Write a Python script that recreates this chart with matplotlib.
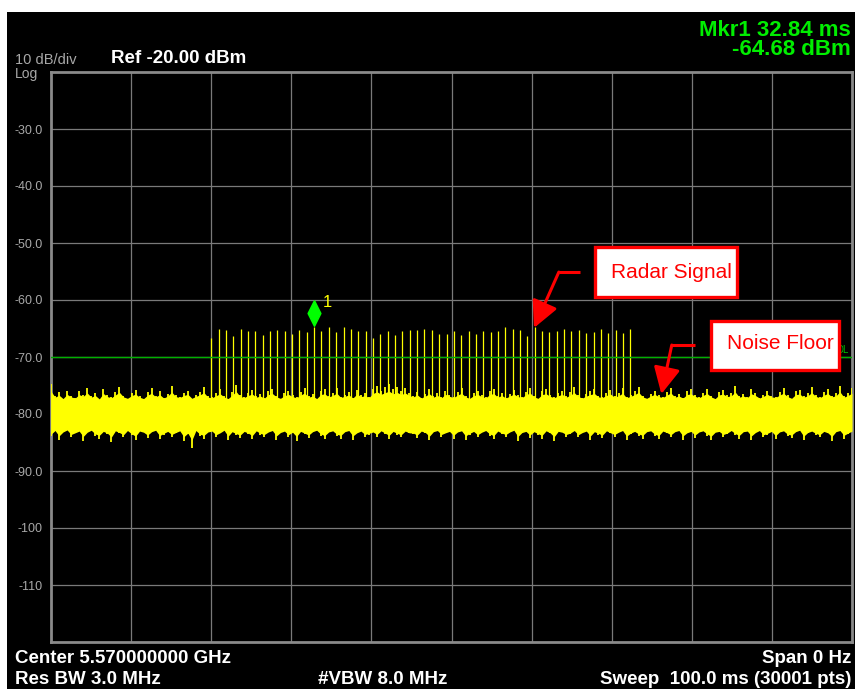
import numpy as np
import matplotlib.pyplot as plt
from matplotlib.patches import Rectangle

plt.rcParams['font.family'] = ['Liberation Sans', 'DejaVu Sans']

# screen settings (zero span, 100 ms sweep)
t_start, t_stop = 0.0, 100.0
ref_level = -20.0
bottom_level = -120.0
ytick_vals = [-30, -40, -50, -60, -70, -80, -90, -100, -110]
ytick_labels = ['-30.0', '-40.0', '-50.0', '-60.0', '-70.0', '-80.0', '-90.0', '-100', '-110']
xgrid_vals = [10, 20, 30, 40, 50, 60, 70, 80, 90]
display_line = -70.0

# radar pulses (ms, dBm)
pulse_t = [20.00, 20.92, 21.84, 22.75, 23.67, 24.59, 25.51, 26.43, 27.34, 28.26,
           29.18, 30.10, 31.02, 31.93, 32.85, 33.77, 34.69, 35.61, 36.52, 37.44,
           38.36, 39.28, 40.20, 41.11, 42.03, 42.95, 43.87, 44.79, 45.70, 46.62,
           47.54, 48.46, 49.38, 50.29, 51.21, 52.13, 53.05, 53.97, 54.88, 55.80,
           56.72, 57.64, 58.56, 59.47, 60.39, 61.31, 62.23, 63.15, 64.06, 64.98,
           65.90, 66.82, 67.74, 68.65, 69.57, 70.49, 71.41, 72.33]
pulse_peak = [-66.6, -65.0, -65.3, -66.4, -65.1, -65.4, -65.4, -66.1, -65.5, -65.3,
              -65.5, -66.0, -65.3, -65.7, -64.7, -65.4, -64.8, -65.7, -64.7, -65.0,
              -65.5, -65.4, -66.7, -66.0, -65.5, -66.1, -65.5, -65.2, -65.3, -65.1,
              -65.3, -66.0, -66.0, -65.5, -66.1, -65.4, -66.0, -65.4, -65.7, -65.5,
              -64.8, -65.1, -65.3, -66.3, -64.8, -65.4, -65.7, -65.4, -65.1, -65.4,
              -65.3, -65.8, -65.7, -65.0, -65.8, -65.3, -65.8, -65.1]

# noise floor, peaks and troughs read every 0.5 ms
noise_hi = [-74.8, -76.9, -76.2, -77.4, -75.9, -76.8, -77.2, -76.0, -76.6, -75.4,
            -76.9, -76.3, -77.5, -75.6, -76.7, -77.1, -76.1, -75.2, -76.8, -77.3,
            -76.4, -75.8, -76.9, -77.4, -76.2, -75.5, -76.8, -76.0, -77.2, -76.5,
            -75.1, -76.7, -77.0, -76.3, -75.9, -77.3, -76.6, -76.1, -75.3, -76.9,
            -77.1, -76.4, -75.7, -76.8, -77.4, -76.2, -74.9, -76.7, -77.0, -76.3,
            -75.8, -76.9, -76.5, -77.2, -76.0, -75.6, -76.8, -77.3, -76.4, -75.9,
            -76.7, -77.1, -76.2, -75.4, -76.9, -76.5, -77.4, -76.0, -75.7, -76.8,
            -76.3, -75.5, -77.0, -76.6, -76.1, -77.2, -75.8, -76.7, -76.4, -77.0,
            -75.6, -75.0, -75.9, -75.3, -74.8, -75.7, -75.2, -76.0, -75.4, -76.3,
            -76.8, -76.1, -77.2, -76.5, -75.7, -76.9, -76.3, -77.1, -75.9, -76.6,
            -77.0, -76.2, -75.5, -76.8, -77.3, -76.4, -75.9, -76.7, -77.1, -76.0,
            -75.6, -76.9, -76.3, -77.2, -76.5, -75.8, -76.7, -77.0, -76.1, -75.4,
            -76.8, -77.3, -76.0, -75.7, -76.6, -77.1, -76.4, -75.9, -76.9, -76.2,
            -75.3, -76.7, -77.2, -76.5, -76.0, -75.6, -76.8, -77.0, -76.3, -75.8,
            -76.9, -76.4, -75.5, -77.1, -76.6, -76.0, -75.2, -76.8, -77.3, -76.5,
            -75.9, -76.7, -77.0, -76.2, -75.4, -76.9, -76.5, -77.2, -76.0, -75.7,
            -76.6, -77.1, -76.3, -75.6, -76.8, -77.4, -76.1, -75.8, -76.7, -76.4,
            -75.1, -76.9, -76.5, -77.0, -75.7, -76.3, -77.2, -76.6, -75.9, -76.8,
            -77.0, -76.2, -75.5, -76.7, -77.3, -76.0, -75.8, -76.9, -76.4, -75.3,
            -76.6, -77.1, -76.2, -75.6, -76.8, -76.4, -75.0, -76.9, -76.3, -75.5]
noise_lo = [-83.9, -82.6, -84.5, -83.1, -82.4, -84.0, -83.4, -82.8, -84.7, -83.2,
            -82.5, -83.8, -84.3, -82.9, -83.5, -84.9, -82.7, -83.3, -84.1, -82.6,
            -83.7, -84.6, -82.8, -83.2, -84.2, -83.0, -82.5, -84.4, -83.6, -82.9,
            -84.0, -83.3, -82.7, -84.8, -83.5, -86.0, -82.6, -83.9, -84.3, -83.1,
            -82.8, -84.1, -83.4, -82.5, -84.6, -83.0, -83.7, -84.2, -82.9, -83.5,
            -84.4, -82.7, -83.6, -84.0, -83.1, -82.6, -84.5, -83.3, -82.8, -84.1,
            -83.2, -84.7, -82.9, -83.5, -84.2, -83.0, -82.5, -83.8, -84.4, -83.1,
            -82.7, -83.9, -84.3, -83.0, -82.6, -84.5, -83.4, -82.8, -84.0, -83.6,
            -83.1, -84.0, -82.7, -83.5, -84.3, -82.9, -83.6, -84.1, -82.8, -83.4,
            -83.5, -84.2, -82.8, -83.3, -84.6, -83.0, -82.6, -84.0, -83.4, -82.9,
            -84.3, -83.1, -82.7, -84.5, -83.6, -82.9, -84.1, -83.2, -82.6, -83.8,
            -84.4, -82.8, -83.5, -84.0, -83.1, -82.5, -84.7, -83.3, -82.9, -84.2,
            -83.0, -83.7, -84.3, -82.7, -83.4, -84.8, -82.9, -83.2, -84.0, -83.5,
            -82.6, -84.1, -83.3, -82.8, -84.5, -83.0, -83.6, -84.2, -82.7, -83.4,
            -84.0, -83.2, -82.6, -84.6, -83.5, -82.9, -83.8, -84.3, -83.0, -82.7,
            -83.9, -84.4, -82.8, -83.3, -84.1, -83.0, -82.6, -84.5, -83.4, -82.9,
            -84.2, -83.1, -82.7, -83.8, -84.6, -83.2, -82.9, -84.0, -83.5, -82.6,
            -83.7, -84.3, -83.0, -82.8, -84.5, -83.3, -82.6, -84.1, -83.6, -82.9,
            -84.4, -83.1, -82.7, -83.9, -84.2, -83.0, -82.5, -84.6, -83.3, -82.8,
            -83.6, -84.1, -82.9, -83.4, -84.7, -83.0, -82.6, -84.3, -83.5, -82.8]

mkr_t = 32.84
mkr_level = -64.68

W, H = 855, 689
fig = plt.figure(figsize=(W / 100, H / 100), dpi=100, facecolor='white')
# black instrument screen, behind the axes
fig.patches.append(Rectangle((7 / W, 0), (W - 7) / W, (H - 12) / H, transform=fig.transFigure,
                             fc='black', ec='none', zorder=-10))


def px_text(x, y, s, **kw):
    fig.text(x / W, 1 - y / H, s, va='baseline', **kw)


ax = fig.add_axes([51 / W, (H - 642) / H, 801 / W, 570 / H], zorder=1)
ax.set_facecolor('black')
ax.set_xlim(t_start, t_stop)
ax.set_ylim(bottom_level, ref_level)
ax.set_xticks(xgrid_vals)
ax.set_xticklabels([])
ax.set_yticks(ytick_vals)
ax.set_yticklabels(ytick_labels)
ax.tick_params(length=0, labelcolor='#a8a8a8', labelsize=9, pad=6)
ax.grid(True, color='#7a7a7a', lw=0.9, zorder=1)
ax.set_axisbelow(True)
for sp in ax.spines.values():
    sp.set_color('#8a8a8a')
    sp.set_linewidth(2)

# trace: solid core plus the spikes
noise_t = np.linspace(t_start, t_stop, len(noise_hi))
hi = np.array(noise_hi)
lo = np.array(noise_lo)
ax.fill_between(noise_t, (hi - 77.2) / 2, (lo - 83.2) / 2, color='#ffff00', lw=0, zorder=3)
ax.vlines(noise_t, lo, hi, colors='#ffff00', lw=1.3, zorder=3)
ax.vlines(pulse_t, -78.0, pulse_peak, colors='#ffff00', lw=0.9, zorder=3)

# display line
ax.axhline(display_line, color='#00b000', lw=1.0, zorder=5)
ax.text(99.6, display_line + 0.3, 'DL', color='#00c000', fontsize=7, ha='right', va='bottom', zorder=5)

# marker 1
diamond = [(0, 1), (0.5, 0), (0, -1), (-0.5, 0), (0, 1)]
ax.plot([mkr_t], [mkr_level + 2.4], marker=diamond, ms=18.5, color='#00ff00', mec='#00ff00',
        ls='none', zorder=6)
ax.text(mkr_t + 1.1, mkr_level + 4.3, '1', color='#ffff00', fontsize=12, va='center', zorder=6)

# annotations
ax.add_patch(Rectangle((67.9, -59.5), 17.7, 8.8, fc='white', ec='#ff0000', lw=2.4, zorder=7))
ax.text(69.9, -55.1, 'Radar Signal', color='#ff0000', fontsize=15, va='center', zorder=8)
ax.plot([66.0, 63.4], [-55.1, -55.1], color='#ff0000', lw=2.2, zorder=7, solid_capstyle='butt')
ax.annotate('', xy=(60.3, -64.9), xytext=(63.4, -55.1),
            arrowprops=dict(arrowstyle='-|>,head_length=0.9,head_width=0.45', color='#ff0000',
                            lw=2.2, mutation_scale=18, shrinkA=0, shrinkB=0), zorder=7)

ax.add_patch(Rectangle((82.4, -72.3), 16.0, 8.6, fc='white', ec='#ff0000', lw=2.4, zorder=7))
ax.text(84.4, -67.6, 'Noise Floor', color='#ff0000', fontsize=15, va='center', zorder=8)
ax.plot([80.4, 77.5], [-67.9, -67.9], color='#ff0000', lw=2.2, zorder=7, solid_capstyle='butt')
ax.annotate('', xy=(76.2, -76.5), xytext=(77.5, -67.9),
            arrowprops=dict(arrowstyle='-|>,head_length=0.9,head_width=0.45', color='#ff0000',
                            lw=2.2, mutation_scale=18, shrinkA=0, shrinkB=0), zorder=7)

# screen annotations
px_text(15, 64, '10 dB/div', color='#a8a8a8', fontsize=10.5)
px_text(15, 78, 'Log', color='#a8a8a8', fontsize=10)
px_text(111, 63, 'Ref -20.00 dBm', color='white', fontsize=13.5, fontweight='bold')
px_text(851, 36, 'Mkr1 %.2f ms' % mkr_t, color='#00ee00', fontsize=16, fontweight='bold', ha='right')
px_text(851, 55, '%.2f dBm' % mkr_level, color='#00ee00', fontsize=16, fontweight='bold', ha='right')
px_text(15, 663, 'Center 5.570000000 GHz', color='white', fontsize=13.5, fontweight='bold')
px_text(15, 684, 'Res BW 3.0 MHz', color='white', fontsize=13.5, fontweight='bold')
px_text(318, 684, '#VBW 8.0 MHz', color='white', fontsize=13.5, fontweight='bold')
px_text(851, 663, 'Span 0 Hz', color='white', fontsize=13.5, fontweight='bold', ha='right')
px_text(851, 684, 'Sweep  100.0 ms (30001 pts)', color='white', fontsize=13.5, fontweight='bold', ha='right')

fig.savefig('out.png', dpi=100, facecolor=fig.get_facecolor())
